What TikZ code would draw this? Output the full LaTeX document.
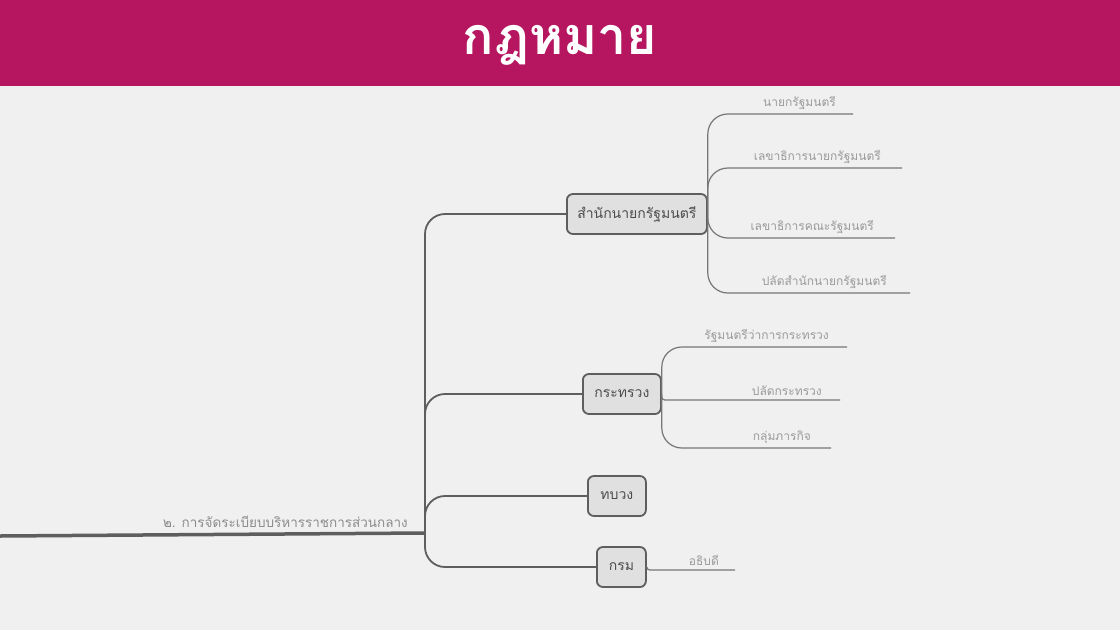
\documentclass[tikz,border=0pt]{standalone}
\usepackage{fontspec}
\newfontfamily\thaifont[Script=Thai]{Loma}
\usetikzlibrary{positioning}
\definecolor{bandcol}{HTML}{B5165F}
\definecolor{paper}{HTML}{F0F0F0}
\definecolor{linecol}{HTML}{5E5E5E}
\definecolor{boxfill}{HTML}{E0E0E0}
\definecolor{leafcol}{HTML}{9A9A9A}
\begin{document}
\begin{tikzpicture}[x=1pt, y=-1pt,
    box/.style={draw=linecol, line width=1.8pt, fill=boxfill, rounded corners=6pt,
      minimum height=40pt, inner xsep=9pt, anchor=west, text=black!70,
      font=\thaifont\fontsize{14}{16}\selectfont},
    leaf/.style={inner sep=1pt, text=leafcol, font=\thaifont\fontsize{12}{14}\selectfont},
    branch/.style={draw=linecol, line width=1.8pt, rounded corners=20pt},
    twig/.style={draw=linecol!85, line width=1.2pt, rounded corners=20pt}]
    \useasboundingbox (0,0) rectangle (1120,630);
    \fill[paper] (0,0) rectangle (1120,630);
    \fill[bandcol] (0,0) rectangle (1120,86);
    \node[font=\thaifont\bfseries\fontsize{52}{56}\selectfont, text=white] (title) at (560,45) {กฎหมาย};

    % trunk
    \coordinate (start) at (0,536);
    \coordinate (hub) at (425,533);
    \draw[linecol, line width=3.5pt] (start) -- (hub);
    \node[leaf, text=black!45, font=\thaifont\fontsize{13.5}{15}\selectfont,
      above left=4pt and 16pt of hub] (topic) {๒. การจัดระเบียบบริหารราชการส่วนกลาง};

    % main branches
    \node[box, minimum width=140pt] (office) at (566,214) {สำนักนายกรัฐมนตรี};
    \node[box, minimum width=78pt] (ministry) at (582,394) {กระทรวง};
    \node[box, minimum width=58pt] (bureau) at (587,496) {ทบวง};
    \node[box, minimum width=49pt] (dept) at (596,567) {กรม};
    \draw[branch] (hub) |- (office.west);
    \draw[branch] (hub) |- (ministry.west);
    \draw[branch] (hub) |- (bureau.west);
    \draw[branch] (hub) |- (dept.west);

    % office leaves
    \coordinate (a1) at (853,114);
    \coordinate (a2) at (902,168);
    \coordinate (a3) at (895,238);
    \coordinate (a4) at (910,293);
    \draw[twig] (office.east) |- (a1);
    \draw[twig] (office.east) |- (a2);
    \draw[twig] (office.east) |- (a3);
    \draw[twig] (office.east) |- (a4);
    \node[leaf, above left=3pt and 16pt of a1] (pm) {นายกรัฐมนตรี};
    \node[leaf, above left=3pt and 20pt of a2] (pmsec) {เลขาธิการนายกรัฐมนตรี};
    \node[leaf, above left=3pt and 20pt of a3] (cabsec) {เลขาธิการคณะรัฐมนตรี};
    \node[leaf, above left=3pt and 22pt of a4] (perm) {ปลัดสำนักนายกรัฐมนตรี};

    % ministry leaves
    \coordinate (b1) at (847,347);
    \coordinate (b2) at (840,400);
    \coordinate (b3) at (831,448);
    \draw[twig] (ministry.east) |- (b1);
    \draw[twig, rounded corners=3pt] (ministry.east) |- (b2);
    \draw[twig] (ministry.east) |- (b3);
    \node[leaf, above left=3pt and 17pt of b1] (minister) {รัฐมนตรีว่าการกระทรวง};
    \node[leaf, above left=3pt and 17pt of b2] (minperm) {ปลัดกระทรวง};
    \node[leaf, above left=3pt and 19pt of b3] (groups) {กลุ่มภารกิจ};

    % department leaf
    \coordinate (c1) at (735,570);
    \draw[twig, rounded corners=3pt] (dept.east) |- (c1);
    \node[leaf, above left=3pt and 15pt of c1] (dg) {อธิบดี};
\end{tikzpicture}
\end{document}
